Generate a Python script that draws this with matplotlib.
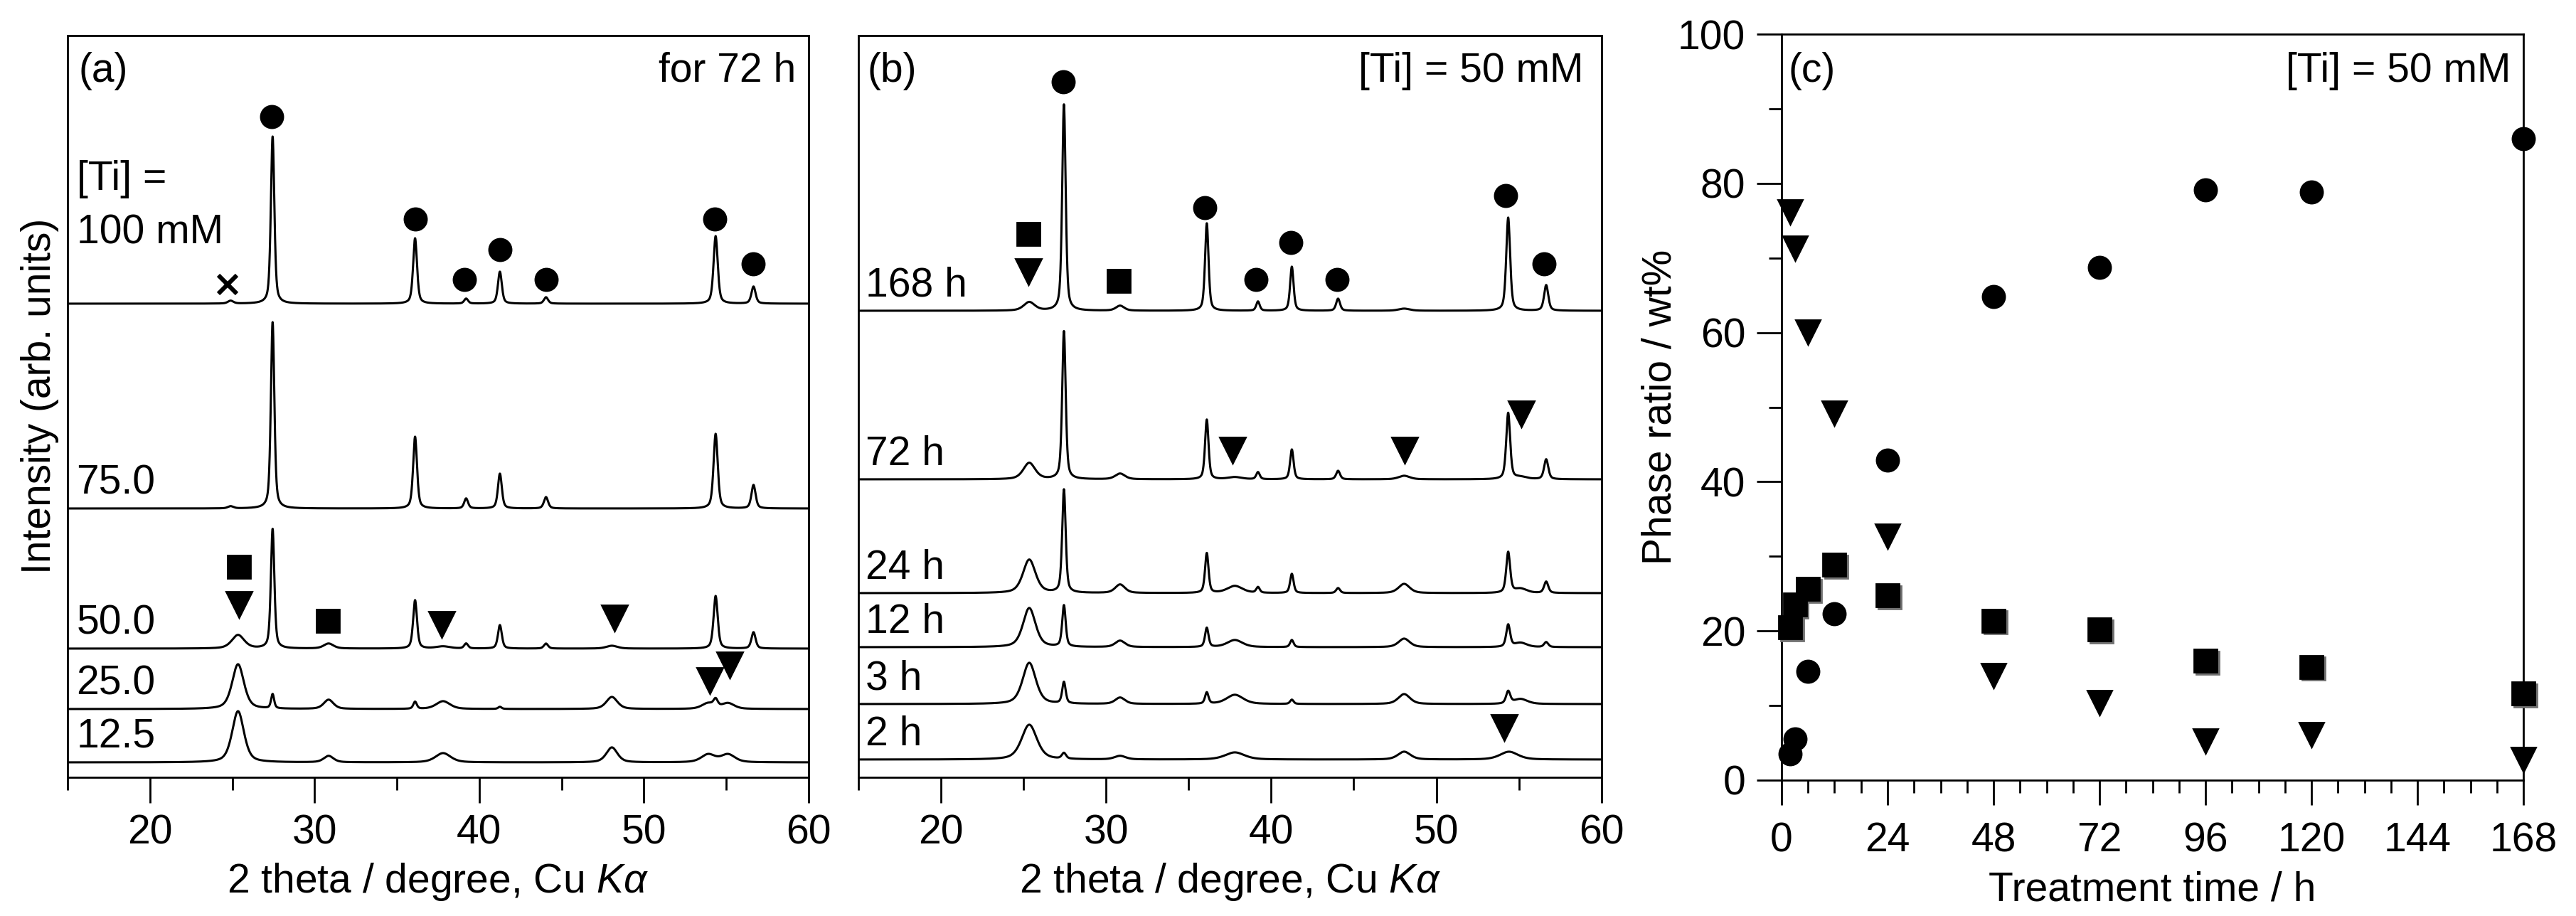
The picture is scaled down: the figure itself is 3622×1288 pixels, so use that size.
import numpy as np
import matplotlib
matplotlib.use("Agg")
import matplotlib.pyplot as plt
from matplotlib.ticker import MultipleLocator
from matplotlib.transforms import offset_copy

plt.rcParams['font.family'] = ['Liberation Sans', 'DejaVu Sans']
plt.rcParams['font.size'] = 20.5
plt.rcParams['mathtext.fontset'] = 'custom'
plt.rcParams['mathtext.rm'] = 'Liberation Sans'
plt.rcParams['mathtext.it'] = 'Liberation Sans:italic'

# ---------------- (a) XRD, 72 h, different [Ti] ----------------
# peaks: (2theta, height, fwhm), heights in arbitrary stacked units
a_labels = ['12.5', '25.0', '50.0', '75.0', '100 mM']
a_offsets = [21, 96, 181, 378, 666]
a_peaks_12 = [(25.35, 72, 0.85), (30.85, 9, 0.7), (37.8, 13, 1.1), (48.05, 21, 0.8),
              (53.9, 11, 1.0), (55.1, 11, 1.0)]
a_peaks_25 = [(25.35, 63, 0.85), (27.45, 20, 0.22), (30.85, 13, 0.7), (36.1, 10, 0.25),
              (37.8, 11, 1.0), (41.25, 3, 0.25), (48.05, 17, 0.8), (53.9, 8, 0.9),
              (54.35, 10, 0.3), (55.1, 8, 0.9)]
a_peaks_50 = [(25.35, 19, 0.9), (27.45, 168, 0.25), (30.85, 7, 0.7), (36.1, 68, 0.28),
              (37.8, 3, 1.0), (39.2, 7, 0.28), (41.25, 33, 0.28), (44.05, 7, 0.3),
              (48.05, 4, 0.8), (54.35, 74, 0.3), (56.65, 23, 0.3)]
a_peaks_75 = [(24.9, 3, 0.4), (27.45, 262, 0.25), (36.1, 101, 0.28), (39.2, 14, 0.28),
              (41.25, 49, 0.28), (44.05, 16, 0.3), (54.35, 105, 0.3), (56.65, 33, 0.3)]
a_peaks_100 = [(24.9, 4, 0.4), (27.45, 235, 0.25), (36.1, 92, 0.28), (39.2, 7, 0.28),
               (41.25, 45, 0.28), (44.05, 9, 0.3), (54.35, 95, 0.3), (56.65, 24, 0.3)]
a_peaks = [a_peaks_12, a_peaks_25, a_peaks_50, a_peaks_75, a_peaks_100]

# phase marks in (a)
a_rut_x = [27.4, 36.1, 39.1, 41.25, 44.05, 54.3, 56.65]
a_rut_y = [929, 785, 700, 742, 700, 785, 722]
a_brk_x = [25.4, 30.8]
a_brk_y = [296, 220]
a_ana_x = [25.4, 37.7, 48.2, 54.0, 55.2]
a_ana_y = [243, 215, 224, 136, 158]
a_unk_x = [24.7]
a_unk_y = [693]

# ---------------- (b) XRD, [Ti] = 50 mM, different times ----------------
b_labels = ['2 h', '3 h', '12 h', '24 h', '72 h', '168 h']
b_offsets = [25, 103, 183, 259, 419, 656]
b_peaks_2 = [(25.35, 49, 1.1), (27.45, 8, 0.3), (30.85, 5, 0.8), (37.8, 10, 1.4),
             (48.05, 11, 0.9), (54.4, 11, 1.3)]
b_peaks_3 = [(25.35, 58, 0.95), (27.45, 30, 0.25), (30.85, 9, 0.7), (36.1, 16, 0.25),
             (37.8, 13, 1.2), (41.25, 6, 0.25), (48.05, 14, 0.85), (54.35, 17, 0.3),
             (55.1, 7, 1.0)]
b_peaks_12 = [(25.35, 55, 0.9), (27.45, 58, 0.25), (30.85, 9, 0.7), (36.1, 27, 0.25),
              (37.8, 10, 1.1), (41.25, 10, 0.25), (48.05, 12, 0.8), (54.35, 31, 0.28),
              (55.1, 6, 0.9), (56.65, 7, 0.3)]
b_peaks_24 = [(25.35, 47, 0.9), (27.45, 145, 0.25), (30.85, 12, 0.7), (36.1, 56, 0.25),
              (37.8, 10, 1.1), (39.2, 8, 0.25), (41.25, 27, 0.25), (44.05, 7, 0.28),
              (48.05, 13, 0.8), (54.35, 57, 0.28), (55.1, 6, 0.9), (56.65, 16, 0.3)]
b_peaks_72 = [(25.35, 23, 0.85), (27.45, 208, 0.25), (30.85, 8, 0.7), (36.1, 84, 0.25),
              (37.8, 3, 1.0), (39.2, 10, 0.25), (41.25, 42, 0.25), (44.05, 12, 0.28),
              (48.05, 5, 0.8), (54.35, 93, 0.28), (55.1, 3, 0.9), (56.65, 28, 0.3)]
b_peaks_168 = [(25.35, 12, 0.8), (27.45, 290, 0.25), (30.85, 7, 0.6), (36.1, 123, 0.25),
               (39.2, 13, 0.25), (41.25, 62, 0.25), (44.05, 17, 0.28), (48.05, 3, 0.8),
               (54.35, 131, 0.28), (56.65, 36, 0.3)]
b_peaks = [b_peaks_2, b_peaks_3, b_peaks_12, b_peaks_24, b_peaks_72, b_peaks_168]

b_rut_x = [27.4, 36.0, 39.1, 41.2, 44.0, 54.2, 56.5]
b_rut_y = [978, 801, 700, 752, 700, 818, 722]
b_brk_x = [25.3, 30.75]
b_brk_y = [764, 698]
b_ana_x = [25.3, 37.65, 48.1, 55.15, 54.1]
b_ana_y = [711, 460, 460, 511, 70]

# ---------------- (c) phase ratio ----------------
time_h = [2, 3, 6, 12, 24, 48, 72, 96, 120, 168]
rutile = [3.5, 5.5, 14.6, 22.3, 42.9, 64.8, 68.7, 79.1, 78.8, 86.0]
anatase = [76.2, 71.3, 60.1, 49.2, 32.7, 14.0, 10.4, 5.2, 6.1, 2.8]
brookite = [20.5, 23.5, 25.6, 28.9, 24.8, 21.4, 20.2, 16.0, 15.2, 11.6]


def pattern(x, peaks):
    y = np.zeros_like(x)
    for c, h, w in peaks:
        d = (x - c) / w
        y += h * (0.5 / (1 + 4 * d ** 2) + 0.5 * np.exp(-4 * np.log(2) * d ** 2))
    return y


tt = np.linspace(15, 60, 4501)

fig = plt.figure(figsize=(18.11, 6.44), dpi=200)
ax_a = fig.add_axes([0.02623, 0.1514, 0.2877, 0.8098])
ax_b = fig.add_axes([0.3332, 0.1514, 0.2885, 0.8098])
ax_c = fig.add_axes([0.6916, 0.1483, 0.2880, 0.8144])

for ax in (ax_a, ax_b, ax_c):
    for s in ax.spines.values():
        s.set_linewidth(1.0)

mk = dict(color='k', linestyle='none', clip_on=False, zorder=4)


def xrd_axes(ax):
    ax.set_xlim(15, 60)
    ax.set_ylim(0, 1043)
    ax.set_yticks([])
    ax.xaxis.set_major_locator(MultipleLocator(10))
    ax.xaxis.set_minor_locator(MultipleLocator(5))
    ax.tick_params(axis='x', which='major', direction='out', length=13, width=1.0, pad=5.5)
    ax.tick_params(axis='x', which='minor', direction='out', length=6.5, width=1.0)
    ax.set_xlabel(r'2 theta / degree, Cu $K\alpha$', va='top')
    ax.xaxis.set_label_coords(0.5, -0.113)


# (a)
xrd_axes(ax_a)
for lab, off, pk in zip(a_labels, a_offsets, a_peaks):
    ax_a.plot(tt, off + pattern(tt, pk), color='k', lw=1.1)
    lift = 84 if lab == '100 mM' else 20
    ax_a.text(0.012, off + lift, lab, transform=ax_a.get_yaxis_transform(), va='baseline')
ax_a.text(0.012, a_offsets[-1] + 160, '[Ti] =', transform=ax_a.get_yaxis_transform(),
          va='baseline')
ax_a.plot(a_rut_x, a_rut_y, marker='o', ms=11.2, **mk)
ax_a.plot(a_brk_x, a_brk_y, marker='s', ms=11.8, **mk)
ax_a.plot(a_ana_x, a_ana_y, marker='v', ms=13, **mk)
ax_a.plot(a_unk_x, a_unk_y, marker='x', ms=9.5, mew=2.2, **mk)
ax_a.text(0.015, 0.938, '(a)', transform=ax_a.transAxes, va='baseline')
ax_a.text(0.983, 0.938, 'for 72 h', transform=ax_a.transAxes, va='baseline', ha='right')
ax_a.set_ylabel('Intensity (arb. units)', va='center')
ax_a.yaxis.set_label_coords(-0.0374, 0.514)

# (b)
xrd_axes(ax_b)
for lab, off, pk in zip(b_labels, b_offsets, b_peaks):
    ax_b.plot(tt, off + pattern(tt, pk), color='k', lw=1.1)
    ax_b.text(0.01, off + 20, lab, transform=ax_b.get_yaxis_transform(), va='baseline')
ax_b.plot(b_rut_x, b_rut_y, marker='o', ms=11.2, **mk)
ax_b.plot(b_brk_x, b_brk_y, marker='s', ms=11.8, **mk)
ax_b.plot(b_ana_x, b_ana_y, marker='v', ms=13, **mk)
ax_b.text(0.012, 0.938, '(b)', transform=ax_b.transAxes, va='baseline')
ax_b.text(0.976, 0.938, '[Ti] = 50 mM', transform=ax_b.transAxes, va='baseline', ha='right')

# (c)
shadow = offset_copy(ax_c.transData, fig=fig, x=1.0, y=-1.0, units='points')
ax_c.plot(time_h, brookite, marker='s', ms=11.8, color='#707070', linestyle='none',
          clip_on=False, zorder=3, transform=shadow)
ax_c.plot(time_h, brookite, marker='s', ms=11.8, **mk)
ax_c.plot(time_h, anatase, marker='v', ms=12.3, **mk)
ax_c.plot(time_h, rutile, marker='o', ms=11.2, **mk)
ax_c.set_xlim(0, 168)
ax_c.set_ylim(0, 100)
ax_c.xaxis.set_major_locator(MultipleLocator(24))
ax_c.xaxis.set_minor_locator(MultipleLocator(6))
ax_c.yaxis.set_major_locator(MultipleLocator(20))
ax_c.yaxis.set_minor_locator(MultipleLocator(10))
ax_c.tick_params(which='major', direction='out', length=12.5, width=1.0)
ax_c.tick_params(which='minor', direction='out', length=6.5, width=1.0)
ax_c.tick_params(axis='x', which='major', pad=8.5)
ax_c.tick_params(axis='y', which='major', pad=5.8)
ax_c.set_xlabel('Treatment time / h', va='top')
ax_c.xaxis.set_label_coords(0.5, -0.122)
ax_c.set_ylabel('Phase ratio / wt%', va='center')
ax_c.yaxis.set_label_coords(-0.163, 0.5)
ax_c.text(0.0096, 0.936, '(c)', transform=ax_c.transAxes, va='baseline')
ax_c.text(0.983, 0.936, '[Ti] = 50 mM', transform=ax_c.transAxes, va='baseline', ha='right')

fig.savefig('out.png', dpi=200)
